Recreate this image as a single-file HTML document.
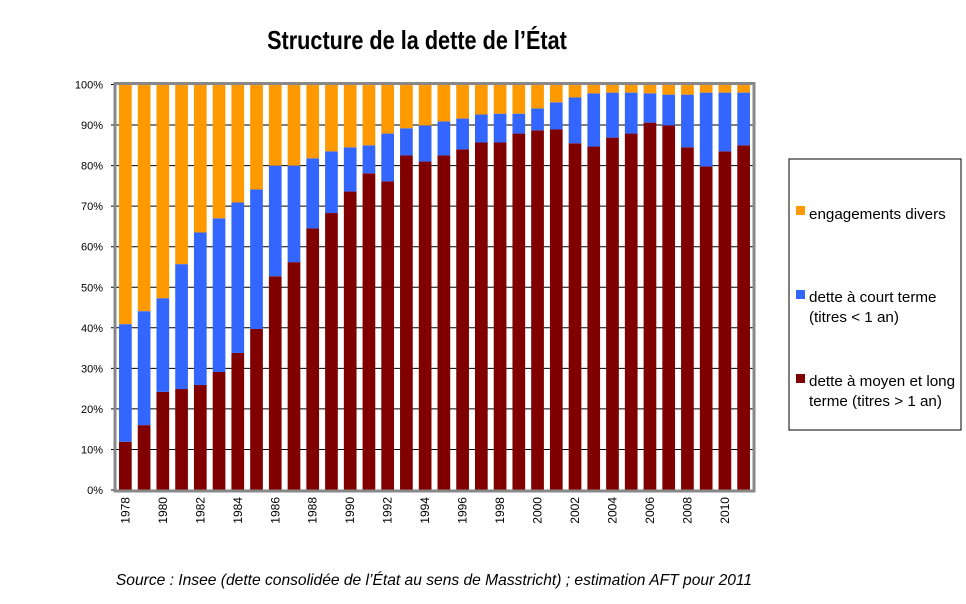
<!DOCTYPE html>
<html><head><meta charset="utf-8"><style>
body{margin:0;background:#fff;width:966px;height:599px;overflow:hidden;font-family:"Liberation Sans",sans-serif}
</style></head><body>
<svg id="c" width="966" height="599">
<text x="417" y="49" text-anchor="middle" font-size="25.5" font-weight="bold" transform="translate(417,0) scale(0.85,1) translate(-417,0)">Structure de la dette de l’État</text>
<g id="grid"></g><g id="bars"></g><g id="axes"></g>
<rect x="789" y="159" width="172" height="271" fill="#fff" stroke="#000" stroke-width="1"/>
<g font-size="15.2">
<rect x="796" y="206" width="9" height="9" fill="#FF9900"/>
<text x="809" y="219">engagements divers</text>
<rect x="796" y="290" width="9" height="9" fill="#3366FF"/>
<text x="809" y="302">dette à court terme</text>
<text x="809" y="322">(titres &lt; 1 an)</text>
<rect x="796" y="374" width="9" height="9" fill="#800000"/>
<text x="809" y="386">dette à moyen et long</text>
<text x="809" y="406">terme (titres &gt; 1 an)</text>
</g>
<text x="434" y="585" text-anchor="middle" font-size="15.6" font-style="italic">Source : Insee (dette consolidée de l’État au sens de Masstricht) ; estimation AFT pour 2011</text>
</svg>
<script>
const years=[1978,1979,1980,1981,1982,1983,1984,1985,1986,1987,1988,1989,1990,1991,1992,1993,1994,1995,1996,1997,1998,1999,2000,2001,2002,2003,2004,2005,2006,2007,2008,2009,2010,2011];
const longTerm=[11.9,16.0,24.2,24.9,25.9,29.1,33.8,39.7,52.7,56.2,64.5,68.3,73.6,78.1,76.1,82.5,81.0,82.5,84.0,85.7,85.7,87.9,88.7,88.9,85.5,84.7,86.9,87.9,90.6,89.9,84.5,79.8,83.5,85.0];
const shortTerm=[29.0,28.1,23.1,30.8,37.6,37.9,37.1,34.4,27.3,23.8,17.3,15.2,10.9,6.9,11.8,6.7,8.9,8.4,7.6,6.9,7.1,4.9,5.4,6.7,11.3,13.1,11.1,10.1,7.2,7.6,13.0,18.2,14.5,13.0];
const yTicks=[0,10,20,30,40,50,60,70,80,90,100];
const X0=116,X1=753,Y0=490,Y1=84.5;
const NS="http://www.w3.org/2000/svg";
const band=(X1-X0)/years.length, bw=12.7;
const y=v=>Y0-(Y0-Y1)*v/100;
const x=i=>X0+band*i+(band-bw)/2;
function mk(t,a,p){const e=document.createElementNS(NS,t);for(const k in a)e.setAttribute(k,a[k]);p.appendChild(e);return e;}
const grid=document.getElementById('grid'),bars=document.getElementById('bars'),axes=document.getElementById('axes');
yTicks.forEach(v=>{
 const l=mk('line',{x1:X0-5,x2:X1,y1:y(v),y2:y(v),stroke:'#000','stroke-width':1},grid);
 
 
 const t=mk('text',{x:103,y:y(v)+4,'text-anchor':'end','font-size':11},axes);
 t.textContent=v+'%';
 
 
});
years.forEach((yr,i)=>{
 const lt=longTerm[i],st=shortTerm[i];
 const segs=[[0,lt,'#800000','long'],[lt,lt+st,'#3366FF','court'],[lt+st,100,'#FF9900','divers']];
 segs.forEach(s=>{
  const r=mk('rect',{x:x(i),y:y(s[1]),width:bw,height:y(s[0])-y(s[1]),fill:s[2]},bars);
  
  
 });
 if(i%2===0){
  const cx=x(i)+bw/2+4, cy=497;
  const t=mk('text',{x:cx,y:cy,'text-anchor':'end','font-size':12,transform:`rotate(-90 ${cx} ${cy})`},axes);
  t.textContent=yr;
  
  
 }
});
const f=mk('rect',{x:X0-1,y:Y1-1,width:X1-X0+2,height:Y0-Y1+2,fill:'none',stroke:'#888','stroke-width':3},axes);


</script>
</body></html>
